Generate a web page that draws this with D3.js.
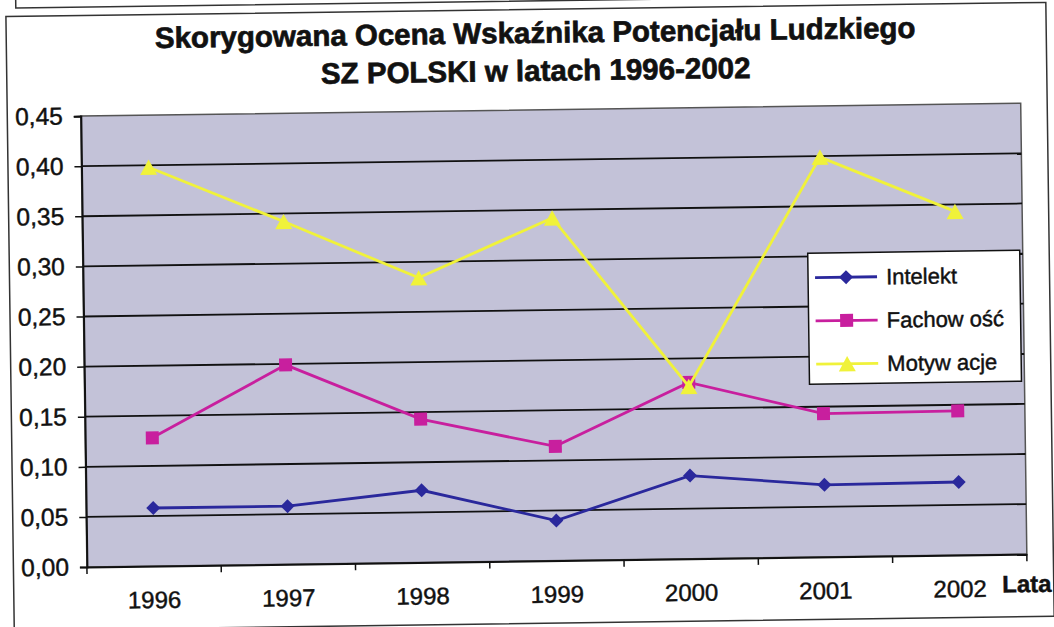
<!DOCTYPE html>
<html>
<head>
<meta charset="utf-8">
<script src="https://cdn.jsdelivr.net/npm/d3@7/dist/d3.min.js"></script>
<style>
  body { margin: 0; background: #fff; }
  text { font-family: "Liberation Sans", Arial, sans-serif; fill: #111; stroke: #111; stroke-width: 0.45px; }
</style>
</head>
<body>
<div id="chart"></div>
<script>
// data
const years = ["1996", "1997", "1998", "1999", "2000", "2001", "2002"];
const intelekt = [0.058, 0.058, 0.072, 0.040, 0.083, 0.072, 0.073];
const fachowosc = [0.128, 0.199, 0.143, 0.114, 0.176, 0.143, 0.144];
const motywacje = [0.398, 0.342, 0.284, 0.342, 0.172, 0.399, 0.343];
const yTicks = [0, 0.05, 0.10, 0.15, 0.20, 0.25, 0.30, 0.35, 0.40, 0.45];
const seriesNames = ["Intelekt", "Fachow ość", "Motyw acje"];
const titleLines = ["Skorygowana Ocena Wskaźnika Potencjału Ludzkiego", "SZ POLSKI w latach 1996-2002"];
const xTitle = "Lata";

const W = 1054, H = 627;
let margin = {top: 110, right: 30.5, bottom: 66, left: 83.5},
    width = W - margin.left - margin.right,
    height = H - margin.top - margin.bottom;

const svg = d3.select("#chart").append("svg")
    .attr("width", W)
    .attr("height", H);

// the scan is slightly tilted, so the whole page is turned a little
const page = svg.append("g")
    .attr("transform", "rotate(-0.78, 527, 313)");

// frame of the box above (mostly cut off) and the chart frame
page.append("rect")
    .attr("x", 20).attr("y", -40).attr("width", 1020).attr("height", 41)
    .attr("fill", "none").attr("stroke", "#333").attr("stroke-width", 1.5);
page.append("rect")
    .attr("x", 10).attr("y", 9.5).attr("width", 1040).attr("height", 614)
    .attr("fill", "#fff").attr("stroke", "#333").attr("stroke-width", 1.5);

// title, one text with two lines
page.append("text")
    .attr("y", 43)
    .attr("text-anchor", "middle")
    .style("font-size", "29.5px")
    .style("font-weight", "bold")
    .style("stroke-width", "0.7px")
    .selectAll("tspan")
    .data(titleLines)
    .enter().append("tspan")
    .attr("x", 539)
    .attr("dy", (d, i) => i === 0 ? 0 : 38)
    .text(d => d);

const g = page.append("g")
    .attr("transform", "translate(" + margin.left + "," + margin.top + ")");

let xb = d3.scaleBand().domain(years).range([0, width]);
let x = d => xb(d) + xb.bandwidth() / 2;
let y = d3.scaleLinear().domain([0, 0.45]).range([height, 0]);

// plot area
g.append("rect")
    .attr("width", width).attr("height", height)
    .attr("fill", "#c3c2d8")
    .attr("stroke", "#555").attr("stroke-width", 1.5);

// gridlines
g.selectAll("line.grid")
    .data(yTicks.filter(t => t > 0 && t < 0.45))
    .enter().append("line")
    .attr("class", "grid")
    .attr("x1", 0).attr("x2", width)
    .attr("y1", d => y(d)).attr("y2", d => y(d))
    .attr("stroke", "#111").attr("stroke-width", 1.8);

// y axis
let yAxis = g.append("g")
    .call(d3.axisLeft(y)
        .tickValues(yTicks)
        .tickSize(7)
        .tickPadding(11)
        .tickFormat(d => d.toFixed(2).replace(".", ",")));
yAxis.select(".domain").attr("stroke", "#111").attr("stroke-width", 2);
yAxis.selectAll(".tick line").attr("stroke", "#111").attr("stroke-width", 1.5);
yAxis.selectAll("text").style("font-size", "24.5px").attr("fill", "#111");

// x axis, ticks between categories
let xAxis = g.append("g")
    .attr("transform", "translate(0," + height + ")")
    .call(d3.axisBottom(xb).tickSize(0).tickPadding(25));
xAxis.select(".domain").attr("stroke", "#111").attr("stroke-width", 2);
xAxis.selectAll("text").style("font-size", "24px").attr("fill", "#111");

g.selectAll("line.xtick")
    .data(years.map(d => xb(d)).concat([width]))
    .enter().append("line")
    .attr("class", "xtick")
    .attr("x1", d => d).attr("x2", d => d)
    .attr("y1", height).attr("y2", height + 7)
    .attr("stroke", "#111").attr("stroke-width", 1.5);

g.append("text")
    .attr("x", 915)
    .attr("y", 489)
    .style("font-size", "24px")
    .style("font-weight", "bold")
    .text(xTitle);

// markers
const diamond = s => "M0," + (-s) + "L" + s + ",0L0," + s + "L" + (-s) + ",0Z";
const square = s => "M" + (-s) + "," + (-s) + "h" + (2 * s) + "v" + (2 * s) + "h" + (-2 * s) + "Z";
const triangle = s => "M0," + (-s * 0.9) + "L" + s + "," + (s * 0.9) + "L" + (-s) + "," + (s * 0.9) + "Z";

const series = [
    {name: seriesNames[0], values: intelekt, color: "#2a289c", marker: diamond(7)},
    {name: seriesNames[1], values: fachowosc, color: "#c81f9e", marker: square(6.5)},
    {name: seriesNames[2], values: motywacje, color: "#f0f23a", marker: triangle(8.5)}
];

let line = d3.line()
    .x((d, i) => x(years[i]))
    .y(d => y(d));

series.forEach(s => {
    g.append("path")
        .datum(s.values)
        .attr("fill", "none")
        .attr("stroke", s.color)
        .attr("stroke-width", 2.8)
        .attr("d", line);

    g.selectAll(null)
        .data(s.values)
        .enter().append("path")
        .attr("transform", (d, i) => "translate(" + x(years[i]) + "," + y(d) + ")")
        .attr("d", s.marker)
        .attr("fill", s.color);
});

// legend
let legend = g.append("g")
    .attr("transform", "translate(" + (808.5 - margin.left) + "," + (257 - margin.top) + ")");

legend.append("rect")
    .attr("width", 212).attr("height", 131)
    .attr("fill", "#fff")
    .attr("stroke", "#111").attr("stroke-width", 1.5);

let item = legend.selectAll("g.item")
    .data(series)
    .enter().append("g")
    .attr("class", "item")
    .attr("transform", (d, i) => "translate(0," + (24.5 + i * 43.3) + ")");

item.append("line")
    .attr("x1", 7).attr("x2", 69)
    .attr("stroke", d => d.color)
    .attr("stroke-width", 2.8);

item.append("path")
    .attr("transform", "translate(38,0)")
    .attr("d", d => d.marker)
    .attr("fill", d => d.color);

item.append("text")
    .attr("x", 78)
    .attr("dy", "0.35em")
    .style("font-size", "22px")
    .text(d => d.name);
</script>
</body>
</html>
